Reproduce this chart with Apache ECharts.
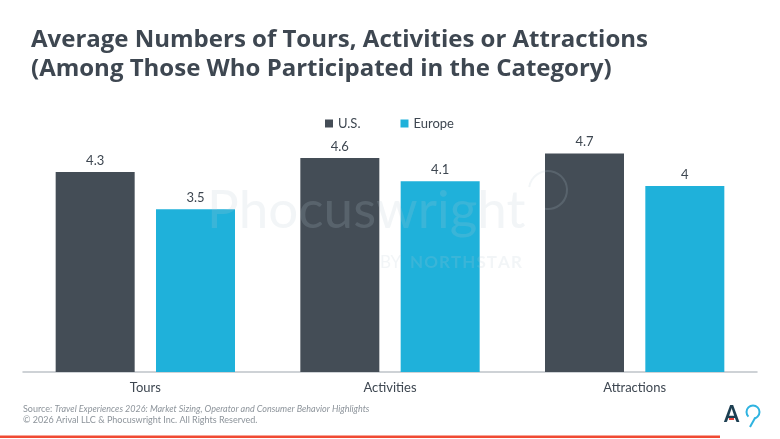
<!DOCTYPE html>
<html><head><meta charset="utf-8">
<script src="https://cdn.jsdelivr.net/npm/echarts@6/dist/echarts.min.js"></script>
<style>html,body{margin:0;padding:0;background:#fff}#c{width:780px;height:439px}</style>
</head><body><div id="c"></div>
<script>
const categories = ['Tours', 'Activities', 'Attractions'];
const usValues = [4.3, 4.6, 4.7];
const europeValues = [3.5, 4.1, 4];
const seriesNames = ['U.S.', 'Europe'];

const chart = echarts.init(document.getElementById('c'));
const FONT = 'Lato, "Noto Sans", sans-serif';
const WM = 'rgba(185,198,210,0.18)';
const HS = '\u200A';
chart.setOption({
  backgroundColor: '#fff',
  animation: false,
  title: {
    text: 'Average Numbers of Tours, Activities or Attractions\n(Among Those Who Participated in the Category)',
    left: 26, top: 21,
    textStyle: { fontFamily: '"Open Sans", sans-serif', fontSize: 24, fontWeight: 'bold', color: '#3e4751', lineHeight: 29 }
  },
  legend: {
    data: seriesNames, top: 112, left: 320,
    itemWidth: 8, itemHeight: 8, itemGap: 40, icon: 'rect',
    textStyle: { fontFamily: FONT, fontSize: 13, color: '#3e4751' }
  },
  grid: { left: 23, right: 23, top: 139.5, bottom: 67 },
  xAxis: {
    type: 'category', data: categories,
    axisLine: { lineStyle: { color: '#bfc4c9', width: 1.5 } },
    axisTick: { show: false },
    axisLabel: { fontFamily: FONT, fontSize: 13, color: '#3e4751', margin: 9 }
  },
  yAxis: { type: 'value', min: 0, max: 5, show: false, splitLine: { show: false } },
  series: [
    { name: seriesNames[0], type: 'bar', data: usValues, barWidth: 79, barGap: '27%',
      itemStyle: { color: '#444d56' },
      label: { show: true, position: 'top', distance: 5, fontFamily: FONT, fontSize: 13, color: '#3e4751' } },
    { name: seriesNames[1], type: 'bar', data: europeValues, barWidth: 79,
      itemStyle: { color: '#1fb1da' },
      label: { show: true, position: 'top', distance: 5, fontFamily: FONT, fontSize: 13, color: '#3e4751' } }
  ],
  graphic: [
    { type: 'text', x: 207, y: 184, z: 100, silent: true,
      style: { text: 'Phocuswright', font: '53px Lato, sans-serif', fill: WM, verticalAlign: 'top' } },
    { type: 'arc', z: 100, silent: true, shape: { cx: 548, cy: 190, r: 19, startAngle: Math.PI * 1.05, endAngle: Math.PI * 0.55 }, style: { stroke: WM, lineWidth: 2, fill: null } },
    { type: 'text', x: 380, y: 254, z: 100, silent: true,
      style: { text: 'BY', font: '17px Lato, sans-serif', fill: WM, verticalAlign: 'top' } },
    { type: 'text', x: 410, y: 254, z: 100, silent: true,
      style: { text: 'NORTHSTAR'.split('').join(HS), font: 'bold 17px Lato, sans-serif', fill: WM, verticalAlign: 'top' } },
    { type: 'text', x: 23, y: 405, style: { rich: {
        a: { fontFamily: 'Lato, sans-serif', fontSize: 9, fill: '#8d949b' },
        b: { fontFamily: 'Lato, sans-serif', fontSize: 9, fontStyle: 'italic', fill: '#8d949b' } },
      text: '{a|Source: }{b|Travel Experiences 2026: Market Sizing, Operator and Consumer Behavior Highlights}' } },
    { type: 'text', x: 23, y: 416, style: { text: '© 2026 Arival LLC & Phocuswright Inc. All Rights Reserved.', font: '9px Lato, sans-serif', fill: '#8d949b' } },
    { type: 'text', x: 724, y: 404, style: { text: 'A', font: 'bold 22px Lato, sans-serif', fill: '#1d3f52' } },
    { type: 'line', shape: { x1: 729, y1: 419, x2: 734, y2: 419 }, style: { stroke: '#e8423a', lineWidth: 2 } },
    { type: 'arc', shape: { cx: 753, cy: 412, r: 6.5, startAngle: Math.PI * 0.75, endAngle: Math.PI * 0.45 }, style: { stroke: '#2fb3e0', lineWidth: 2, fill: null } },
    { type: 'line', shape: { x1: 755, y1: 418, x2: 750, y2: 427 }, style: { stroke: '#2fb3e0', lineWidth: 2 } },
    { type: 'rect', shape: { x: 0, y: 435.5, width: 720, height: 2.5 }, style: { fill: '#f04a33' } }
  ]
});
</script></body></html>
